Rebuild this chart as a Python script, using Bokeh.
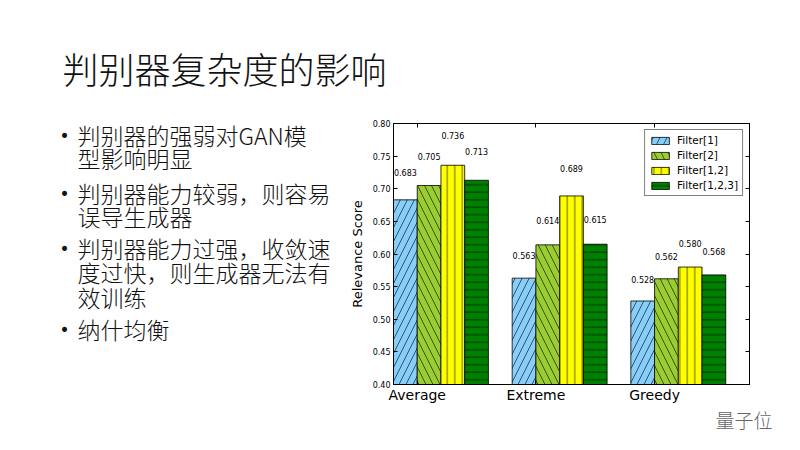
from bokeh.plotting import figure
from bokeh.models import (Range1d, FixedTicker, LinearAxis, PrintfTickFormatter,
                          Legend, LegendItem, ColumnDataSource, Title)
from bokeh.layouts import column, row
from bokeh.embed import file_html
from bokeh.resources import INLINE
from bokeh.core.properties import value

# ---------------- data ----------------
categories = ["Average", "Extreme", "Greedy"]
series_names = ["Filter[1]", "Filter[2]", "Filter[1,2]", "Filter[1,2,3]"]
filter_1 = [0.683, 0.563, 0.528]
filter_2 = [0.705, 0.614, 0.562]
filter_12 = [0.736, 0.689, 0.580]
filter_123 = [0.713, 0.615, 0.568]
y_ticks = [0.40, 0.45, 0.50, 0.55, 0.60, 0.65, 0.70, 0.75, 0.80]

title_text = "判别器复杂度的影响"
bullets = [
    ["判别器的强弱对GAN模", "型影响明显"],
    ["判别器能力较弱，则容易", "误导生成器"],
    ["判别器能力过强，收敛速", "度过快，则生成器无法有", "效训练"],
    ["纳什均衡"],
]
watermark = "量子位"

# ---------------- styles ----------------
series_values = [filter_1, filter_2, filter_12, filter_123]
colors = ["#87CEFA", "#9ACD32", "#FFFF00", "#008000"]
hatches = ["/", "\\", "|", "-"]
hatch_scales = [14, 14, 7.5, 7.5]
bar_w = 0.2
MPL = "DejaVu Sans"
CJK_LIGHT = "'Noto Sans CJK SC Light', 'Noto Sans CJK SC DemiLight', 'Noto Sans CJK SC'"
TXT = "#111111"
W, H = 784, 434
TOP_H = 105
LEFT_W = 345
FRAME_L, FRAME_R, FRAME_T, FRAME_B = 393, 749, 123, 393   # page coords of the chart frame


def blank(width, height, x0, x1, y0, y1, **kw):
    f = figure(width=width, height=height, output_backend="svg", toolbar_location=None,
               title=None, x_range=Range1d(x0, x1), y_range=Range1d(y1, y0),
               min_border=0, **kw)
    f.axis.visible = False
    f.grid.visible = False
    f.outline_line_color = None
    f.background_fill_color = "white"
    f.border_fill_color = "white"
    return f


# ---------------- title band ----------------
top_fig = blank(W, TOP_H, 0, W, 0, TOP_H)
top_fig.text(x=[62], y=[67], text=[title_text], text_font=value(CJK_LIGHT),
             text_font_size="36px", text_color=TXT, text_baseline="middle",
             text_align="left")

# ---------------- bullet column (its frame is aligned with the chart frame) ----------------
left_fig = blank(LEFT_W, H - TOP_H, 0, LEFT_W, FRAME_T, FRAME_B,
                 min_border_top=FRAME_T - TOP_H, min_border_bottom=H - FRAME_B)
line_y = [[134.5, 159], [195, 219], [252, 277, 302], [336]]
bx, by, tx, ty, tt = [], [], [], [], []
for lines, ys in zip(bullets, line_y):
    bx.append(64)
    by.append(ys[0] + 1)
    for t, yy in zip(lines, ys):
        tx.append(77)
        ty.append(yy)
        tt.append(t)
left_fig.text(x=bx, y=by, text=["•"] * len(bx), text_font=value(MPL),
              text_font_size="17px", text_color=TXT, text_baseline="middle",
              text_align="center")
left_fig.text(x=tx, y=ty, text=tt, text_font=value(CJK_LIGHT), text_font_size="23px",
              text_color=TXT, text_baseline="middle", text_align="left")

# ---------------- chart ----------------
p = figure(width=W - LEFT_W, height=H - TOP_H, output_backend="svg",
           toolbar_location=None, title=None,
           x_range=Range1d(0, 3.0), y_range=Range1d(0.40, 0.80),
           min_border_left=FRAME_L - LEFT_W, min_border_right=W - FRAME_R,
           min_border_top=FRAME_T - TOP_H, min_border_bottom=H - FRAME_B)
p.background_fill_color = "white"
p.border_fill_color = "white"
p.outline_line_color = "black"
p.outline_line_width = 1
p.xgrid.visible = False
p.ygrid.visible = False

items = []
for k, (name, vals) in enumerate(zip(series_names, series_values)):
    xs = [i + k * bar_w + bar_w / 2 for i in range(len(categories))]
    src = ColumnDataSource(dict(x=xs, top=vals,
                                lab=["%.3f" % v for v in vals],
                                ly=[v * 1.062 for v in vals]))
    r = p.vbar(x="x", top="top", bottom=0, width=bar_w, source=src,
               fill_color=colors[k], line_color="black", line_width=0.8,
               hatch_pattern=hatches[k], hatch_color="black",
               hatch_weight=0.6, hatch_scale=hatch_scales[k])
    p.text(x="x", y="ly", text="lab", source=src, text_align="center",
           text_baseline="middle", text_font=value(MPL), text_font_size="8px",
           text_color="black")
    items.append(LegendItem(label=name, renderers=[r]))

legend = Legend(items=items, location="top_right", margin=6, padding=4,
                spacing=3, glyph_width=22, glyph_height=9, label_standoff=6,
                label_text_font=MPL, label_text_font_size="10.5px",
                label_text_color="black",
                border_line_color="black", border_line_width=1,
                background_fill_color="white", background_fill_alpha=1)
p.add_layout(legend)

xt = [i + bar_w for i in range(len(categories))]
p.xaxis.ticker = FixedTicker(ticks=xt)
p.xaxis.major_label_overrides = {t: c for t, c in zip(xt, categories)}
p.xaxis.major_label_text_font = MPL
p.xaxis.major_label_text_font_size = "14px"
p.xaxis.major_label_text_color = "black"
p.xaxis.major_label_standoff = 2
p.xaxis.major_tick_in = 4
p.xaxis.major_tick_out = 0
p.xaxis.minor_tick_line_color = None
p.xaxis.axis_line_color = "black"

p.yaxis.ticker = FixedTicker(ticks=y_ticks)
p.yaxis.formatter = PrintfTickFormatter(format="%.2f")
p.yaxis.major_label_text_font = MPL
p.yaxis.major_label_text_font_size = "8px"
p.yaxis.major_label_text_color = "black"
p.yaxis.major_label_standoff = 3
p.yaxis.major_tick_in = 4
p.yaxis.major_tick_out = 0
p.yaxis.minor_tick_line_color = None
p.yaxis.axis_label = "Relevance Score"
p.yaxis.axis_label_text_font = MPL
p.yaxis.axis_label_text_font_size = "13px"
p.yaxis.axis_label_text_font_style = "normal"
p.yaxis.axis_label_text_color = "black"
p.yaxis.axis_label_standoff = 5

right = LinearAxis(ticker=FixedTicker(ticks=y_ticks), major_label_text_alpha=0,
                   major_label_text_font_size="1px",
                   major_tick_in=4, major_tick_out=0, minor_tick_line_color=None,
                   axis_line_color="black")
top = LinearAxis(ticker=FixedTicker(ticks=xt), major_label_text_alpha=0,
                 major_label_text_font_size="1px",
                 major_tick_in=4, major_tick_out=0, minor_tick_line_color=None,
                 axis_line_color="black")
p.add_layout(right, "right")
p.add_layout(top, "above")

wm = Title(text=watermark, align="left", offset=715 - FRAME_L, standoff=0,
           vertical_align="top",
           text_font=CJK_LIGHT, text_font_size="19px", text_font_style="normal",
           text_color="#666666", text_line_height=0.6)
p.add_layout(wm, "below")

layout = column(top_fig, row(left_fig, p))
open("out.html", "w").write(file_html(layout, INLINE))
